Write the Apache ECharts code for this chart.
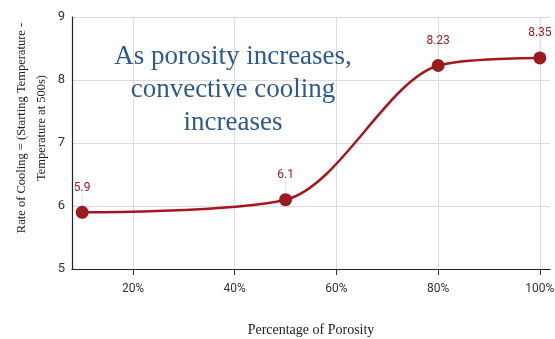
<!DOCTYPE html>
<html><head><meta charset="utf-8">
<script src="https://cdn.jsdelivr.net/npm/echarts@6/dist/echarts.min.js"></script>
<style>html,body{margin:0;padding:0;background:#fff}#c{width:555px;height:339px}</style>
</head><body><div id="c"></div>
<script>
const porosity = [10, 50, 80, 100];
const coolingRate = [5.9, 6.1, 8.23, 8.35];
const xTicks = [20, 40, 60, 80, 100];
const yTicks = [5, 6, 7, 8, 9];
const annotation = ['As porosity increases,', 'convective cooling', 'increases'];

const chart = echarts.init(document.getElementById('c'));
chart.setOption({
  animation: false,
  grid: { left: 72, right: 5, top: 17, bottom: 70, containLabel: false, outerBoundsMode: 'none' },
  xAxis: {
    type: 'value', min: 8, max: 102,
    name: 'Percentage of Porosity', nameLocation: 'middle', nameGap: 54, nameMoveOverlap: false,
    nameTextStyle: { fontFamily: 'Liberation Serif', fontSize: 14, color: '#222' },
    axisLine: { show: true, lineStyle: { color: '#222', width: 1.2 } },
    axisTick: { show: true, length: 6, customValues: xTicks, lineStyle: { color: '#333' } },
    axisLabel: { customValues: xTicks, formatter: v => v + '%', fontFamily: 'Roboto', fontSize: 12, color: '#333', margin: 14 },
    splitLine: { show: true, lineStyle: { color: '#dcdcdc' } }
  },
  yAxis: {
    type: 'value', min: 5, max: 9, interval: 1,
    name: 'Rate of Cooling = (Starting Temperature -\nTemperature at 500s)',
    nameLocation: 'middle', nameGap: 20, nameRotate: 90, nameMoveOverlap: false,
    nameTextStyle: { fontFamily: 'Liberation Serif', fontSize: 12.5, color: '#222', lineHeight: 20, padding: [0, 0, 0, 30] },
    axisLine: { show: true, lineStyle: { color: '#222', width: 1.2 } },
    axisTick: { show: false },
    axisLabel: { fontFamily: 'Roboto', fontSize: 13, color: '#333', margin: 7 },
    splitLine: { show: true, lineStyle: { color: '#dcdcdc' } }
  },
  series: [{
    type: 'line',
    data: porosity.map((x, i) => [x, coolingRate[i]]),
    smooth: 0.3,
    symbol: 'circle', symbolSize: 13,
    lineStyle: { color: '#a3191f', width: 2.5 },
    itemStyle: { color: '#9b1a1e' },
    label: { show: true, position: 'top', distance: 6, color: '#a3191f', fontFamily: 'Roboto', fontSize: 12,
             formatter: p => String(coolingRate[p.dataIndex]) },
    labelLayout: { dy: -6 },
    labelLine: { show: true, lineStyle: { color: '#e4e4e4', width: 1 } }
  }],
  graphic: [{
    type: 'text', x: 233, y: 40, z: 100,
    style: {
      text: annotation.join('\n'), fontFamily: 'Liberation Serif', fontSize: 27, lineHeight: 33,
      fill: '#2d5a8c', textAlign: 'center'
    }
  }]
});
</script></body></html>
